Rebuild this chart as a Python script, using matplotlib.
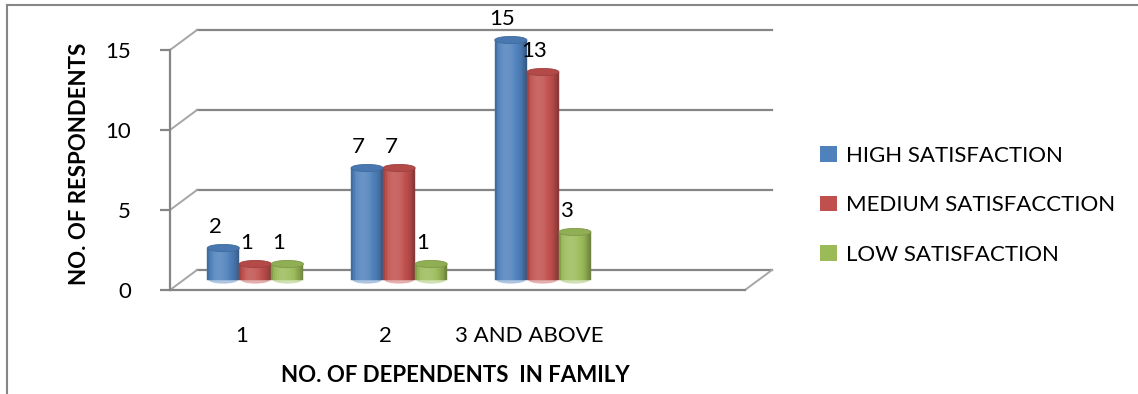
import numpy as np
import matplotlib
matplotlib.use("Agg")
import matplotlib.pyplot as plt
import matplotlib.transforms as mtransforms
from matplotlib.patches import Ellipse, Patch
from matplotlib.lines import Line2D
from matplotlib.colors import to_rgb

# ---- data ----
categories = ["1", "2", "3 AND ABOVE"]
series_names = ["HIGH SATISFACTION", "MEDIUM SATISFACCTION", "LOW SATISFACTION"]
high = [2, 7, 15]
medium = [1, 7, 13]
low = [1, 1, 3]
series_values = [high, medium, low]
series_colors = ["#4F81BD", "#C0504D", "#9BBB59"]
y_ticks = [0, 5, 10, 15]

plt.rcParams.update({
    "font.family": ["Lato", "DejaVu Sans"],
    "font.size": 16,
})

GRID = "#868686"
W, H = 1138, 394
fig = plt.figure(figsize=(W / 100, H / 100), dpi=100)
ax = fig.add_axes([170 / W, 104 / H, 575 / W, 240 / H])
n_slots = 4  # the excel chart keeps an empty 4th category slot
ax.set_xlim(0, n_slots)
ax.set_ylim(0, 15)

# fake 3D: back wall and bar plane are shifted up/right from the front plane
back = ax.transData + mtransforms.ScaledTranslation(0.27, 0.20, fig.dpi_scale_trans)
mid = ax.transData + mtransforms.ScaledTranslation(0.135, 0.10, fig.dpi_scale_trans)
inv = ax.transData.inverted()

def to_back(x, y):
    return inv.transform(back.transform((x, y)))

# back wall gridlines + side wall
for v in y_ticks:
    ax.plot([0, n_slots], [v, v], transform=back, color=GRID, lw=1.6,
            clip_on=False, zorder=1)
    bx, by = to_back(0, v)
    ax.plot([0, bx], [v, by], color="#A6A6A6", lw=1.4, clip_on=False, zorder=1)
bx, by = to_back(n_slots, 0)
ax.plot([n_slots, bx], [0, by], color="#A6A6A6", lw=1.4, clip_on=False, zorder=1)

# cylinders
bar_w = 0.223
n_strips = 18
t = (np.arange(n_strips) + 0.5) / n_strips
bright = 0.62 + 0.5 * np.sin(np.pi * t ** 0.7) ** 0.6
ell_h = 0.45
x_base = np.arange(len(categories)) + 0.5

def shade(rgb, b):
    rgb = np.array(rgb)
    if b <= 1:
        return tuple(rgb * b)
    return tuple(rgb + (1 - rgb) * (b - 1) * 1.2)

for si, vals in enumerate(series_values):
    base = to_rgb(series_colors[si])
    centers = x_base + (si - 1) * bar_w
    light = shade(base, 1.45)
    for cx in centers:
        ax.add_patch(Ellipse((cx, 0), bar_w * 0.9, ell_h, facecolor=light,
                             edgecolor="none", transform=mid, clip_on=False,
                             zorder=2))
    sw = bar_w / n_strips
    for k in range(n_strips):
        ax.bar(centers - bar_w / 2 + (k + 0.5) * sw, vals, width=sw,
               color=shade(base, bright[k]), edgecolor=shade(base, bright[k]),
               linewidth=0.3, transform=mid, clip_on=False, zorder=3)
    for cx, v in zip(centers, vals):
        ax.add_patch(Ellipse((cx, v), bar_w, ell_h, facecolor=shade(base, 0.93),
                             edgecolor=shade(base, 0.82), lw=0.6, transform=mid,
                             clip_on=False, zorder=4))
        ax.annotate(str(v), xy=(cx, v), xycoords=mid, xytext=(-6, 15),
                    textcoords="offset points", ha="center", va="center",
                    fontsize=16, zorder=5)

# axes styling
for s in ["top", "right"]:
    ax.spines[s].set_visible(False)
for s in ["left", "bottom"]:
    ax.spines[s].set_color(GRID)
    ax.spines[s].set_linewidth(1.6)
    ax.spines[s].set_zorder(1)
ax.set_yticks(y_ticks)
ax.tick_params(axis="y", length=7, width=1.6, color=GRID, pad=21, labelsize=16)
ax.set_xticks(x_base)
ax.set_xticklabels(categories)
ax.tick_params(axis="x", length=0, pad=26, labelsize=16)
ax.patch.set_visible(False)

fig.text(80 / W, 1 - 164 / H, "NO. OF RESPONDENTS", rotation=90, ha="center",
         va="center", fontweight="bold", fontsize=16)
fig.text(455 / W, 1 - 376 / H, "NO. OF DEPENDENTS  IN FAMILY", ha="center",
         va="center", fontweight="bold", fontsize=16)

handles = [Patch(facecolor=c, edgecolor="none", label=n)
           for c, n in zip(series_colors, series_names)]
fig.legend(handles=handles, loc="upper left", bbox_to_anchor=(820 / W, 1 - 146 / H),
           frameon=False, fontsize=16, handlelength=0.78, handleheight=0.72,
           handletextpad=0.38, labelspacing=1.32, borderpad=0, borderaxespad=0)

# chart border (cropped on right and bottom)
fig.add_artist(Line2D([7 / W, 7 / W], [0, 1 - 5 / H], transform=fig.transFigure,
                      color=GRID, lw=1.5))
fig.add_artist(Line2D([7 / W, 1], [1 - 5 / H, 1 - 5 / H], transform=fig.transFigure,
                      color=GRID, lw=1.5))

fig.savefig("out.png", dpi=100)
